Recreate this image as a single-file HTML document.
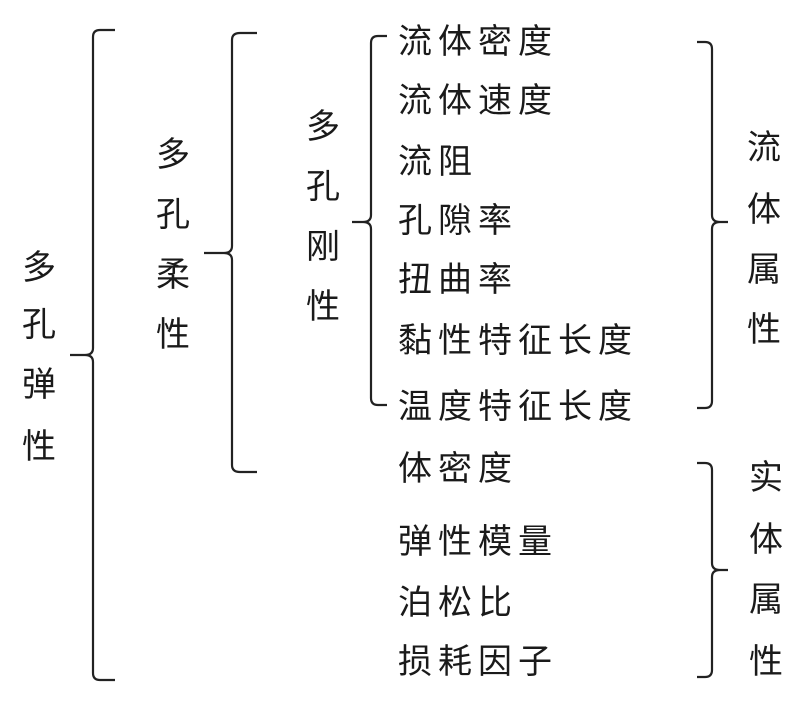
<!DOCTYPE html>
<html><head><meta charset="utf-8"><style>
html,body{margin:0;padding:0;background:#fff;}
body{width:810px;height:705px;position:relative;overflow:hidden;font-family:"Liberation Sans","Noto Sans CJK SC",sans-serif;color:#1a1a1a;}
.t{position:absolute;font-size:34px;line-height:34px;white-space:nowrap;letter-spacing:6px;}
.v{position:absolute;font-size:34px;line-height:34px;width:36px;text-align:center;}
svg{position:absolute;left:0;top:0;}
</style></head><body>
<svg width="810" height="705" fill="none" stroke="#222" stroke-width="2.2">
<path d="M115 30 H100 Q93 30 93 37 V348 Q93 355 85 355 H70 M85 355 Q93 355 93 362 V673 Q93 680 100 680 H115"/>
<path d="M257 33 H240 Q232 33 232 40 V246 Q232 253 224 253 H204 M224 253 Q232 253 232 260 V465 Q232 472 240 472 H257"/>
<path d="M387 36 H378 Q371 36 371 43 V215 Q371 222 363 222 H352 M363 222 Q371 222 371 229 V398 Q371 405 378 405 H387"/>
<path d="M697 42 H705 Q712 42 712 49 V215 Q712 222 720 222 H728 M720 222 Q712 222 712 229 V401 Q712 408 705 408 H697"/>
<path d="M697 463 H705 Q712 463 712 470 V563 Q712 570 720 570 H728 M720 570 Q712 570 712 577 V670 Q712 677 705 677 H697"/>
</svg>
<div class="v" style="left:21px;top:251px">多</div>
<div class="v" style="left:21px;top:308px">孔</div>
<div class="v" style="left:21px;top:368px">弹</div>
<div class="v" style="left:21px;top:430px">性</div>
<div class="v" style="left:155px;top:138px">多</div>
<div class="v" style="left:155px;top:198px">孔</div>
<div class="v" style="left:155px;top:258px">柔</div>
<div class="v" style="left:155px;top:318px">性</div>
<div class="v" style="left:305px;top:110px">多</div>
<div class="v" style="left:305px;top:170px">孔</div>
<div class="v" style="left:305px;top:230px">刚</div>
<div class="v" style="left:305px;top:290px">性</div>
<div class="t" style="left:398px;top:25px">流体密度</div>
<div class="t" style="left:398px;top:84px">流体速度</div>
<div class="t" style="left:398px;top:145px">流阻</div>
<div class="t" style="left:398px;top:204px">孔隙率</div>
<div class="t" style="left:398px;top:263px">扭曲率</div>
<div class="t" style="left:398px;top:324px">黏性特征长度</div>
<div class="t" style="left:398px;top:390px">温度特征长度</div>
<div class="t" style="left:398px;top:452px">体密度</div>
<div class="t" style="left:398px;top:525px">弹性模量</div>
<div class="t" style="left:398px;top:586px">泊松比</div>
<div class="t" style="left:398px;top:645px">损耗因子</div>
<div class="v" style="left:746px;top:131px">流</div>
<div class="v" style="left:746px;top:193px">体</div>
<div class="v" style="left:746px;top:253px">属</div>
<div class="v" style="left:746px;top:313px">性</div>
<div class="v" style="left:748px;top:461px">实</div>
<div class="v" style="left:748px;top:523px">体</div>
<div class="v" style="left:748px;top:583px">属</div>
<div class="v" style="left:748px;top:645px">性</div>
</body></html>
